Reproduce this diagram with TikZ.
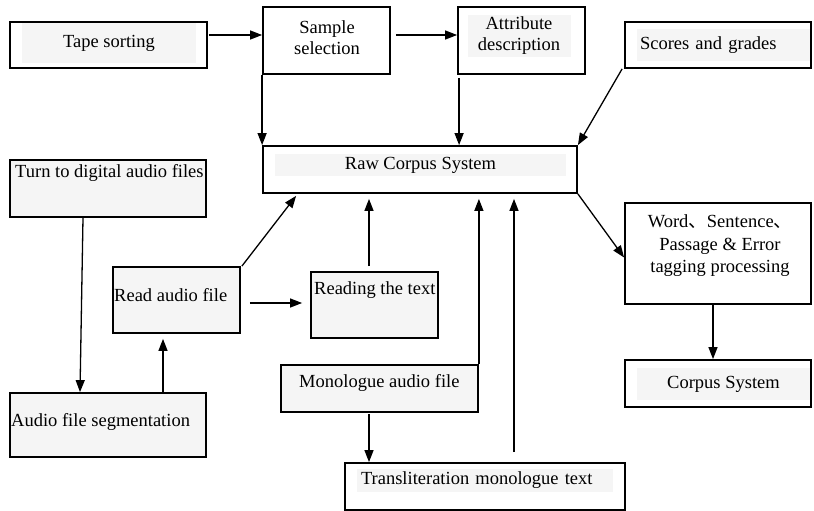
\documentclass[tikz,border=0pt]{standalone}
\usepackage{fontspec}
\setmainfont{Liberation Serif}
\newfontfamily\cjk{Noto Sans CJK SC}
\usetikzlibrary{calc,arrows.meta}
\definecolor{patch}{RGB}{245,245,245}
\tikzset{
  box/.style={draw=black, line width=1.8pt, inner sep=0pt, minimum width=#1},
  greybox/.style={box=#1, fill=patch},
  txt/.style={font=\fontsize{18.5}{21}\selectfont, inner sep=0pt},
  ltxt/.style={txt, anchor=west},
  arr/.style={line width=1.3pt, -{Triangle[length=12pt,width=9pt]}}
}
\begin{document}
\begin{tikzpicture}[x=1pt,y=-1pt]
\useasboundingbox (0,0) rectangle (814,511);
% boxes
\node[box=197, minimum height=46] (tape) at (108.5,45) {};
\node[box=127, minimum height=67] (sample) at (326.5,40.5) {};
\node[box=127, minimum height=67] (attr) at (521.5,40.5) {};
\node[box=186, minimum height=46] (scores) at (718,45) {};
\node[box=314, minimum height=47] (raw) at (420,169.5) {};
\node[greybox=196, minimum height=57] (turn) at (108,188.5) {};
\node[greybox=127, minimum height=66] (readaudio) at (176.5,300) {};
\node[greybox=127, minimum height=66] (readtext) at (374.5,305) {};
\node[greybox=197, minimum height=47] (mono) at (379.5,388.5) {};
\node[greybox=196, minimum height=64] (seg) at (108,425) {};
\node[box=280, minimum height=47] (trans) at (485,486.5) {};
\node[box=186, minimum height=101] (word) at (718,253.5) {};
\node[box=186, minimum height=47] (corpus) at (718,383.5) {};
% texts
\node[txt, fill=patch, minimum width=174, minimum height=40] (tapet) at (109,43) {Tape sorting};
\node[txt, align=center] (samplet) at (327,38) {Sample\\selection};
\node[txt, align=center, fill=patch, minimum width=103, minimum height=42] (attrt) at (519,36) {Attribute\\description};
\node[txt, fill=patch, text width=167, inner xsep=3, minimum height=32, align=left] (scorest) at (723.5,45) {Scores and grades};
\node[txt, fill=patch, minimum width=291, minimum height=22] (rawt) at (420.5,165) {Raw Corpus System};
\node[ltxt] (turnt) at (15,173) {Turn to digital audio files};
\node[ltxt] (readaudiot) at (114,295) {Read audio file};
\node[ltxt] (readtextt) at (314,290) {Reading the text};
\node[ltxt] (monot) at (299,383) {Monologue audio file};
\node[ltxt] (segt) at (11,422) {Audio file segmentation};
\node[txt, fill=patch, text width=248, inner xsep=4, minimum height=23, align=left] (transt) at (485,480.5) {Transliteration monologue text};
\node[txt, align=center, font=\fontsize{18.5}{22.5}\selectfont] (wordt) at (720,246) {Word{\cjk 、}Sentence{\cjk 、}\\Passage \& Error\\tagging processing};
\node[txt, fill=patch, minimum width=173, minimum height=32] (corpust) at (723.5,384) {Corpus System};
% helper coordinates
\coordinate (m1) at ($(mono.south)+(-10.5,1)$);
\coordinate (t1) at ($(trans.north)+(29,-10)$);
\coordinate (r1) at ($(readtext.north)+(-5.5,-5)$);
\coordinate (a1) at ($(attr.south west)+(2,3)$);
\coordinate (w1) at ($(word.south)+(-5,0)$);
\coordinate (s1) at ($(seg.north)+(55,0)$);
% connectors
\draw[arr] ($(tape.east)+(1,-10)$) -- ($(sample.west)+(0,-5.5)$);
\draw[arr] ($(sample.east)+(5,-5.5)$) -- ($(attr.west)+(0,-5.5)$);
\draw[arr] (sample.south west) -- (raw.north west);
\draw[arr] (a1) -- (a1 |- raw.north);
\draw[arr] ($(scores.south west)+(-2,0)$) -- (raw.north east);
\draw[arr] (raw.south east) -- ($(word.west)+(0,4)$);
\draw[arr] (w1) -- (w1 |- corpus.north);
\draw[arr] ($(turn.south)+(-25,0)$) -- ($(seg.north)+(-28,0)$);
\draw[arr, shorten >=5pt] (s1) -- (s1 |- readaudio.south);
\draw[arr] ($(readaudio.north east)+(1,0)$) -- ($(raw.south west)+(34,2)$);
\draw[arr] ($(readaudio.east)+(9,3)$) -- ($(readtext.west)+(-8,-2)$);
\draw[arr, shorten >=5pt] (r1) -- (r1 |- raw.south);
\draw[arr, shorten >=5pt] (mono.north east) -- (mono.north east |- raw.south);
\draw[arr] (m1) -- (m1 |- trans.north);
\draw[arr, shorten >=5pt] (t1) -- (t1 |- raw.south);
\end{tikzpicture}
\end{document}
